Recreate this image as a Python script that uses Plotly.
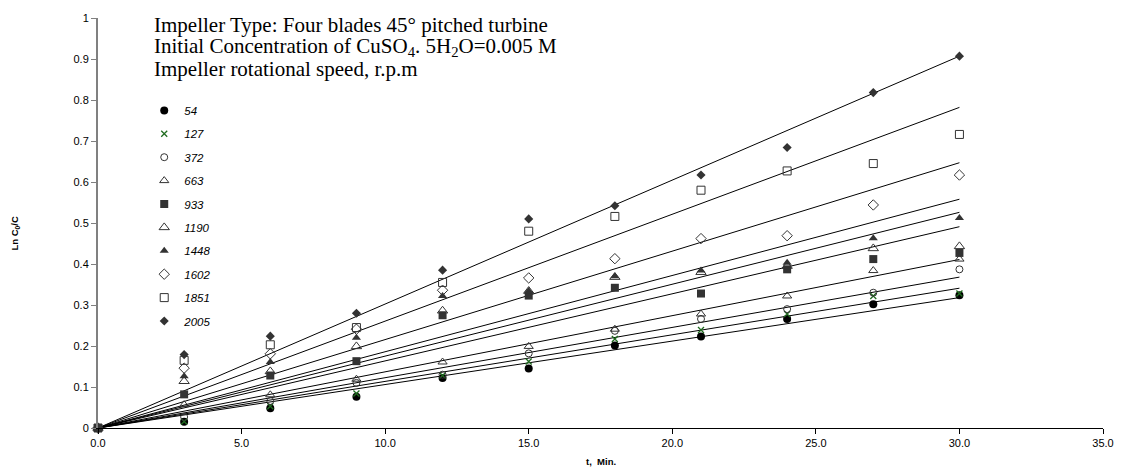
import plotly.graph_objects as go

# ---- data ----
t_min = [0, 3, 6, 9, 12, 15, 18, 21, 24, 27, 30]
speeds = ["54", "127", "372", "663", "933", "1190", "1448", "1602", "1851", "2005"]

ln_54   = [0, 0.015, 0.048, 0.076, 0.122, 0.145, 0.201, 0.223, 0.266, 0.302, 0.324]
ln_127  = [0, 0.016, 0.053, 0.084, 0.128, 0.162, 0.217, 0.239, 0.278, 0.322, 0.328]
ln_372  = [0, 0.027, 0.066, 0.110, 0.130, 0.182, 0.237, 0.266, 0.290, 0.330, 0.387]
ln_663  = [0, 0.057, 0.081, 0.119, 0.161, 0.199, 0.241, 0.278, 0.322, 0.384, 0.412]
ln_933  = [0, 0.082, 0.128, 0.163, 0.275, 0.323, 0.342, 0.328, 0.387, 0.412, 0.427]
ln_1190 = [0, 0.114, 0.138, 0.199, 0.286, 0.334, 0.368, 0.380, 0.395, 0.438, 0.443]
ln_1448 = [0, 0.126, 0.161, 0.220, 0.322, 0.334, 0.370, 0.384, 0.403, 0.463, 0.512]
ln_1602 = [0, 0.146, 0.181, 0.241, 0.336, 0.366, 0.413, 0.462, 0.469, 0.544, 0.617]
ln_1851 = [0, 0.165, 0.203, 0.245, 0.355, 0.480, 0.516, 0.580, 0.627, 0.645, 0.716]
ln_2005 = [0, 0.179, 0.224, 0.280, 0.385, 0.510, 0.542, 0.617, 0.684, 0.818, 0.907]

# linear trend lines through the origin: value read at t = 30 min
trend_x = [0, 30]
trend_end = [0.318, 0.341, 0.368, 0.411, 0.491, 0.526, 0.558, 0.647, 0.782, 0.907]

x_ticks = [0, 5, 10, 15, 20, 25, 30, 35]
x_tick_text = ["0.0", "5.0", "10.0", "15.0", "20.0", "25.0", "30.0", "35.0"]
y_ticks = [0, 0.1, 0.2, 0.3, 0.4, 0.5, 0.6, 0.7, 0.8, 0.9, 1]

series = [ln_54, ln_127, ln_372, ln_663, ln_933, ln_1190, ln_1448, ln_1602, ln_1851, ln_2005]

styles = [
    dict(symbol="circle", size=8, color="#000000", line=dict(width=0)),
    dict(symbol="x-thin", size=6, color="#1f6b1f", line=dict(width=1.3, color="#1f6b1f")),
    dict(symbol="circle-open", size=7, color="#333333", line=dict(width=1)),
    dict(symbol="triangle-up-open", size=8, color="#333333", line=dict(width=1)),
    dict(symbol="square", size=8, color="#333333", line=dict(width=0)),
    dict(symbol="triangle-up-open", size=9, color="#333333", line=dict(width=1)),
    dict(symbol="triangle-up", size=8, color="#333333", line=dict(width=0)),
    dict(symbol="diamond-open", size=8, color="#333333", line=dict(width=1)),
    dict(symbol="square-open", size=8, color="#333333", line=dict(width=1)),
    dict(symbol="diamond", size=7, color="#333333", line=dict(width=0)),
]

FONT = "Liberation Sans, Arial, sans-serif"
SERIF = "Liberation Serif, Times New Roman, serif"

fig = go.Figure()

# trend lines
for name, end in zip(speeds, trend_end):
    fig.add_trace(go.Scatter(
        x=trend_x, y=[0, end], mode="lines",
        line=dict(color="black", width=1),
        showlegend=False, hoverinfo="skip", cliponaxis=False,
    ))

# data markers
for name, ys, st in zip(speeds, series, styles):
    fig.add_trace(go.Scatter(
        x=t_min, y=ys, mode="markers", name=name,
        legendgroup=name,
        marker=dict(symbol=st["symbol"], size=st["size"], color=st["color"],
                    line=st["line"]),
        cliponaxis=False,
    ))

fig.update_layout(
    width=1126, height=470,
    margin=dict(l=98, r=22, t=15, b=42),
    paper_bgcolor="white", plot_bgcolor="white",
    font=dict(family=FONT, size=11, color="black"),
    showlegend=True,
    legend=dict(
        x=0.046, y=0.81, xanchor="left", yanchor="top",
        bgcolor="rgba(0,0,0,0)", borderwidth=0,
        font=dict(family=FONT, size=11.5, color="black", style="italic"),
        tracegroupgap=4.4, itemwidth=30,
    ),
    xaxis=dict(
        range=[0, 35], tickmode="array", tickvals=x_ticks, ticktext=x_tick_text,
        showgrid=False, zeroline=False, showline=True, linecolor="black", linewidth=1,
        ticks="outside", ticklen=5, tickcolor="black", tickwidth=1,
        tickfont=dict(family=FONT, size=11),
    ),
    yaxis=dict(
        range=[0, 1], tickmode="array", tickvals=y_ticks,
        showgrid=False, zeroline=False, showline=True, linecolor="#808080", linewidth=2,
        ticks="outside", ticklen=5, tickcolor="#808080", tickwidth=1,
        tickfont=dict(family=FONT, size=11),
    ),
)

# header text
header = [
    "Impeller Type: Four blades 45° pitched turbine",
    "Initial Concentration of CuSO<sub>4</sub>. 5H<sub>2</sub>O=0.005 M",
    "Impeller rotational speed, r.p.m",
]
for i, txt in enumerate(header):
    fig.add_annotation(
        xref="paper", yref="paper", x=(152 - 98) / 1006, y=(428 - (22 + 22 * i)) / 413,
        xanchor="left", yanchor="middle", showarrow=False, align="left",
        text=txt, font=dict(family=SERIF, size=21, color="black"),
    )

# axis titles
fig.add_annotation(
    xref="paper", yref="paper", x=(15 - 98) / 1006, y=(428 - 232) / 413,
    xanchor="center", yanchor="middle", showarrow=False, textangle=-90,
    text="<b>Ln C<sub>0</sub>/C</b>", font=dict(family=FONT, size=9.5, color="black"),
)
fig.add_annotation(
    xref="paper", yref="paper", x=0.5, y=(428 - 462) / 413,
    xanchor="center", yanchor="middle", showarrow=False,
    text="<b>t,  Min.</b>", font=dict(family=FONT, size=9.5, color="black"),
)

fig.write_html("out.html")
